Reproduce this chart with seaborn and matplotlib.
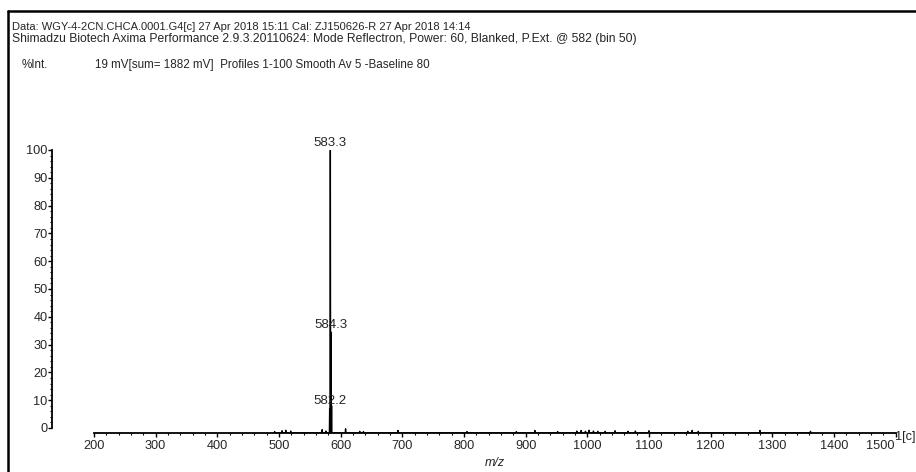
import numpy as np
import pandas as pd
import matplotlib
matplotlib.use("Agg")
import matplotlib.pyplot as plt
from matplotlib.lines import Line2D
from matplotlib.ticker import FixedLocator
from matplotlib.transforms import ScaledTranslation
import seaborn as sns

# ---- data ----
peak_mz = [582.2, 583.3, 584.3, 585.3]
peak_int = [7.0, 100.0, 34.5, 8.0]
peak_labels = ["582.2", "583.3", "584.3"]

noise_mz = [493, 505, 511, 519, 570, 576, 608, 631, 637, 693,
            805, 885, 915, 952, 983, 990, 997, 1003, 1010, 1017, 1029, 1045,
            1066, 1078, 1100, 1163, 1170, 1180, 1280, 1362]
noise_int = [-1.3, -1.0, -0.8, -1.1, -0.6, -1.1, -0.3, -1.2, -1.3, -0.9,
             -1.3, -1.3, -0.9, -1.3, -1.1, -0.9, -1.2, -0.8, -1.1, -1.2, -1.2, -1.0,
             -1.2, -1.1, -1.0, -1.2, -0.9, -1.2, -0.9, -1.2]

x_ticks = list(range(200, 1501, 100))
x_minor = list(range(200, 1501, 20))
y_ticks = list(range(0, 101, 10))
y_minor = list(range(0, 101, 2))

header1 = "Data: WGY-4-2CN.CHCA.0001.G4[c] 27 Apr 2018 15:11 Cal: ZJ150626-R 27 Apr 2018 14:14"
header2 = ("Shimadzu Biotech Axima Performance 2.9.3.20110624: Mode Reflectron, Power: 60, "
           "Blanked, P.Ext. @ 582 (bin 50)")
header3a = "%Int."
header3b = "19 mV[sum= 1882 mV]  Profiles 1-100 Smooth Av 5 -Baseline 80"

# ---- build stick profile ----
BASE = -1.8
HALF = 0.45
all_mz = np.array(peak_mz + noise_mz, dtype=float)
all_int = np.array(peak_int + noise_int, dtype=float)
order = np.argsort(all_mz)
xs, ys = [], []
for m, h in zip(all_mz[order], all_int[order]):
    xs += [m - HALF, m, m + HALF]
    ys += [BASE, h, BASE]
prof = pd.DataFrame({"mz": xs, "int": ys})

sns.set_style("ticks")
plt.rcParams["font.family"] = ["Liberation Sans", "DejaVu Sans"]

fig = plt.figure(figsize=(9.16, 4.72), dpi=100)
ax = fig.add_axes([52 / 916, 39 / 472, (895.6 - 52) / 916, (433 - 150) / 472])

sns.lineplot(data=prof, x="mz", y="int", estimator=None, sort=False,
             color="black", linewidth=1.0, ax=ax)

ax.set_xlim(131.9, 1500)
ax.set_ylim(BASE, 100)
ax.set_xlabel("")
ax.set_ylabel("")

for s in ["top", "right"]:
    ax.spines[s].set_visible(False)
ax.spines["left"].set_bounds(0, 100)
ax.spines["bottom"].set_bounds(200, 1500)
for s in ["left", "bottom"]:
    ax.spines[s].set_linewidth(1.3)
    ax.spines[s].set_color("black")

ax.set_xticks(x_ticks)
ax.set_xticklabels([str(t) for t in x_ticks])
ax.xaxis.set_minor_locator(FixedLocator(x_minor))
ax.set_yticks(y_ticks)
ax.set_yticklabels([str(t) for t in y_ticks])
ax.yaxis.set_minor_locator(FixedLocator(y_minor))
ax.tick_params(axis="both", which="major", direction="out", length=2.6, width=1,
               labelsize=9.2, pad=0.5, color="black")
ax.tick_params(axis="both", which="minor", direction="out", length=1.6, width=0.8,
               color="black")
ax.tick_params(axis="x", which="major", length=3.0, pad=2)

# last x label sits left of its tick to make room for the "1[c]" marker
last = ax.get_xticklabels()[-1]
last.set_horizontalalignment("right")
last.set_transform(last.get_transform() + ScaledTranslation(-1 / 100, 0, fig.dpi_scale_trans))

for m, h in zip(peak_mz, peak_int):
    lab = f"{m:.1f}"
    if lab in peak_labels:
        ax.text(m, h + 0.5, lab, ha="center", va="bottom", fontsize=9.5, clip_on=False)

ax.text(850, -12.7, "m/z", ha="center", va="center",
        fontsize=9, style="italic", clip_on=False)
ax.text(1500, -3.4, "1[c]", ha="left", va="center", fontsize=9.2, clip_on=False,
        transform=ax.transData + ScaledTranslation(-1 / 100, 0, fig.dpi_scale_trans))

fig.text(12 / 916, 1 - 27 / 472, header1, ha="left", va="center", fontsize=8.0)
fig.text(12 / 916, 1 - 39 / 472, header2, ha="left", va="center", fontsize=8.7)
fig.text(22 / 916, 1 - 65 / 472, header3a, ha="left", va="center", fontsize=8.4)
fig.text(95 / 916, 1 - 65 / 472, header3b, ha="left", va="center", fontsize=8.4)

# frame lines (top and left visible)
fig.add_artist(Line2D([8 / 916, 1.0], [1 - 11 / 472, 1 - 11 / 472], color="black",
                      linewidth=1.8, transform=fig.transFigure))
fig.add_artist(Line2D([8 / 916, 8 / 916], [1 - 11 / 472, 0.0], color="black",
                      linewidth=1.8, transform=fig.transFigure))

fig.savefig("out.png", dpi=100)
